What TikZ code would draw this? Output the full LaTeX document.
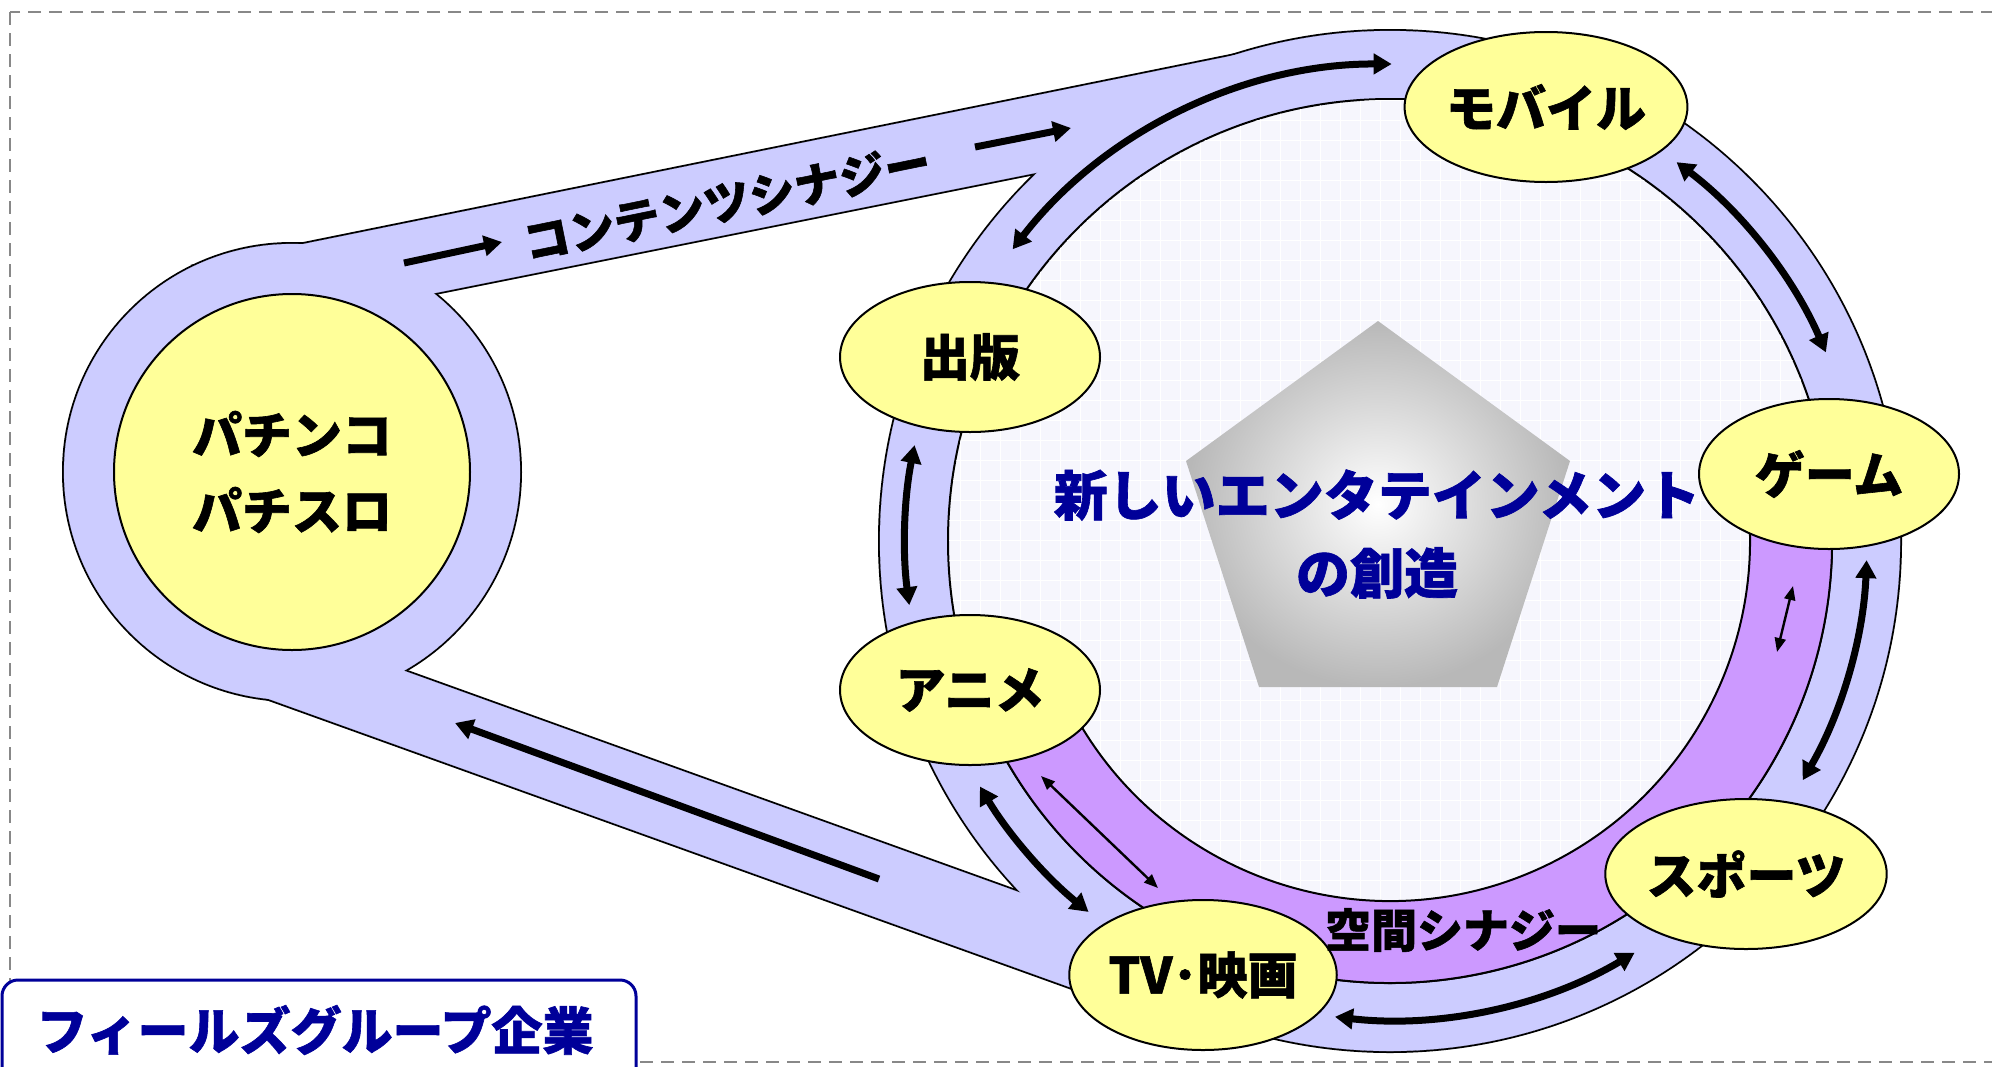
\documentclass[tikz,border=0pt]{standalone}
\usepackage{fontspec}
\usepackage{tikz}
\usetikzlibrary{shapes.geometric,arrows.meta}

\newfontfamily\jp{Noto Sans CJK JP}[BoldFeatures={FakeBold=1.2}]

\definecolor{lav}{RGB}{204,204,255}
\definecolor{pur}{RGB}{204,153,255}
\definecolor{yel}{RGB}{255,255,153}
\definecolor{navy}{RGB}{0,0,153}
\definecolor{pale}{RGB}{246,246,253}
\definecolor{dgray}{RGB}{136,136,136}
\definecolor{pgray}{RGB}{184,184,184}

\begin{document}
\begin{tikzpicture}[x=0.5pt,y=-0.5pt]
        \tikzstyle{v} = [ellipse, draw, line width=1pt, fill=yel, minimum width=130pt, minimum height=75pt, inner sep=0pt, font=\jp\bfseries\fontsize{25}{30}\selectfont]
        \tikzstyle{e} = [line width=3.5pt, >={Triangle[length=9pt,width=10pt]}]
        \tikzstyle{et} = [line width=1.2pt, >={Triangle[length=7pt,width=5.5pt]}]
        \tikzstyle{t} = [font=\jp\bfseries\fontsize{23}{28}\selectfont]
        \useasboundingbox (0,0) rectangle (1992,1066);
        \draw[dgray, line width=1pt, dash pattern=on 6.5pt off 4pt] (10,12) rectangle (2010,1062);

        \coordinate (rc) at (1390,541);
        % belt and ring: outline first, then fill
        \foreach \lw/\c in {2pt/black, 0.1pt/lav} {
          \filldraw[draw=\c, fill=\c, line width=\lw] (292,472) circle[radius=228];
          \filldraw[draw=\c, fill=\c, line width=\lw] (rc) circle[radius=510];
          \filldraw[draw=\c, fill=\c, line width=\lw] (200,265) -- (1280,46) -- (1100,160) -- (380,304) -- cycle;
          \filldraw[draw=\c, fill=\c, line width=\lw] (360,655) -- (1060,907) -- (1150,1016) -- (230,685) -- cycle;
        }
        \filldraw[fill=pale, line width=1pt] (rc) circle[radius=442];
        \begin{scope}
          \clip (rc) circle[radius=441];
          \draw[white, line width=0.5pt, step=10pt] (940,990) grid (1840,90);
        \end{scope}
        % purple band
        \filldraw[fill=pur, line width=1pt] ([shift={(-10:442)}]rc) arc[start angle=-10, end angle=155, radius=442]
          -- ([shift={(155:360)}]rc) arc[start angle=155, end angle=-10, radius=360] -- cycle;

        \shade[inner color=white, outer color=pgray] (1378,321) -- (1570,461) -- (1497,687) -- (1259,687) -- (1186,461) -- cycle;
        \node[align=center, text=navy, font=\jp\bfseries\fontsize{27}{39}\selectfont] (ttl) at (1377,534) {新しいエンタテインメント\\の創造};

        \draw[e,->] (404,263) -- (502,242);
        \draw[e,->] (975,147) -- (1071,128);
        \draw[e,->] (879,879) -- (455,723);
        \draw[e,<->] ([shift={(-142.3:477)}]rc) arc[start angle=-142.3, end angle=-89.8, radius=477];
        \draw[e,<->] ([shift={(-52.9:475)}]rc) arc[start angle=-52.9, end angle=-23.4, radius=475];
        \draw[e,<->] ([shift={(-168.6:485)}]rc) arc[start angle=-168.6, end angle=-187.6, radius=485];
        \draw[e,<->] ([shift={(149.1:478)}]rc) arc[start angle=149.1, end angle=129.1, radius=478];
        \draw[e,<->] ([shift={(2.3:477)}]rc) arc[start angle=2.3, end angle=30.1, radius=477];
        \draw[e,<->] ([shift={(59.3:479)}]rc) arc[start angle=59.3, end angle=96.6, radius=479];
        \draw[et,<->] (1041,776) -- (1158,888);
        \draw[et,<->] (1793,586) -- (1777,652);

        \node[v] (mb) at (1546,107) {モバイル};
        \node[v] (gm) at (1829,474) {ゲーム};
        \node[v] (sp) at (1746,874) {スポーツ};
        \node[v] (tv) at (1203,975) {TV･映画};
        \node[v] (an) at (970,690) {アニメ};
        \node[v] (sh) at (970,357) {出版};
        \node[v, circle, minimum size=178pt, align=center, font=\jp\bfseries\fontsize{25}{38}\selectfont] (pc) at (292,472) {パチンコ\\パチスロ};

        \node[t, rotate=11.5] (cs) at (727,202) {コンテンツシナジー};
        \node[t] (ks) at (1463,930) {空間シナジー};
        \draw[navy, line width=1.5pt, rounded corners=8pt, fill=white] (2,980) rectangle (636,1100);
        \node[text=navy, font=\jp\bfseries\fontsize{25.5}{30}\selectfont] (fg) at (315,1030) {フィールズグループ企業};
\end{tikzpicture}
\end{document}
